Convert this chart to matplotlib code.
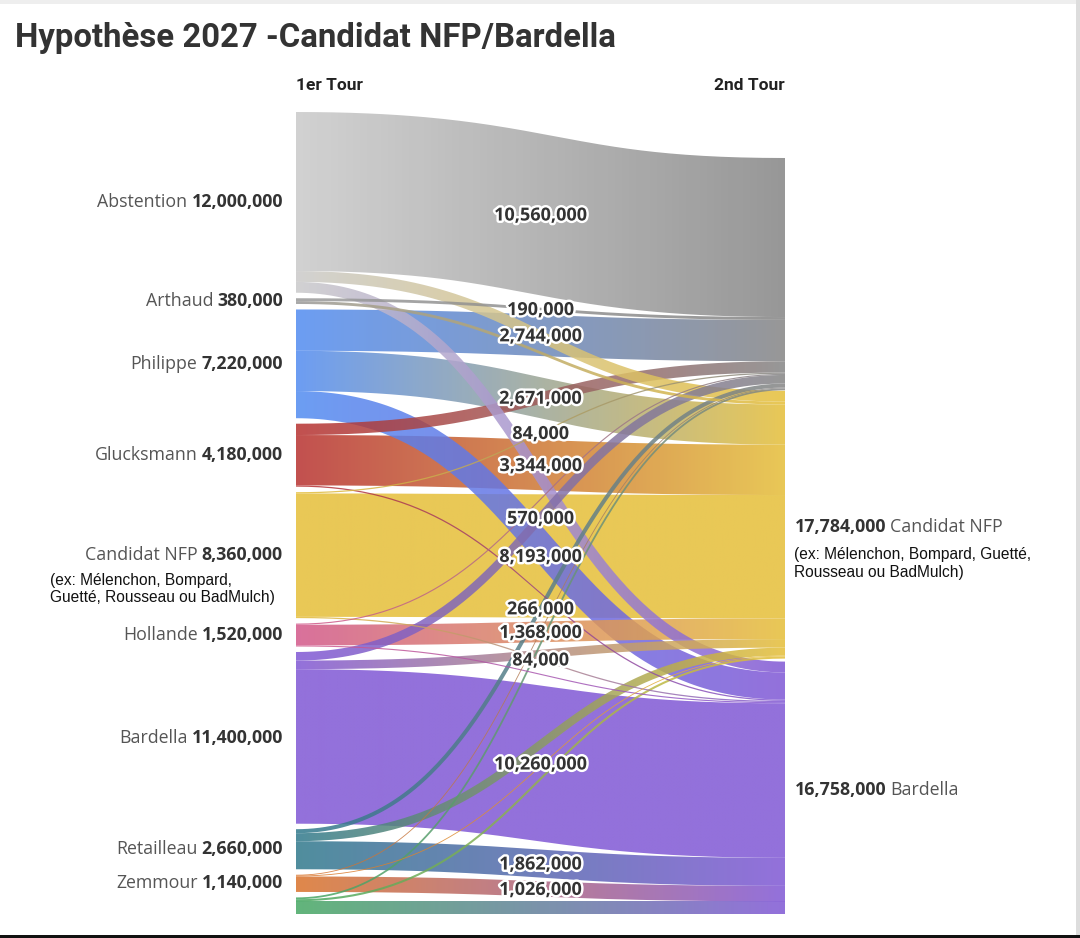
import numpy as np
import matplotlib
matplotlib.use("Agg")
import matplotlib.pyplot as plt
from matplotlib.path import Path
from matplotlib.patches import PathPatch, Rectangle
import matplotlib.colors as mcolors
import matplotlib.patheffects as pe

# ---------------- data ----------------
sources = ["Abstention", "Arthaud", "Philippe", "Glucksmann", "Candidat NFP",
           "Hollande", "Bardella", "Retailleau", "Zemmour", "Autres"]
source_totals = [12000000, 380000, 7220000, 4180000, 8360000,
                 1520000, 11400000, 2660000, 1140000, None]
source_colors = ["#cacaca", "#999999", "#528cf1", "#b7312f", "#e5be38",
                 "#d2578a", "#8057d5", "#30798c", "#da732a", "#46a863"]

targets = ["Abstention", "Candidat NFP", "Bardella"]
target_totals = [None, 17784000, 16758000]
target_colors = ["#858585", "#e5be38", "#8057d5"]

to_abstention = [10560000, 190000, 2744000, 752000, 84000, 76000, 570000, 266000, 57000, 120000]
to_nfp        = [720000, 190000, 2671000, 3344000, 8193000, 1368000, 570000, 532000, 57000, 139000]
to_bardella   = [720000, 0, 1805000, 84000, 84000, 76000, 10260000, 1862000, 1026000, 841000]

# flows whose value label is displayed (source index, target index)
labelled = {(0, 0), (1, 0), (2, 0), (2, 1), (4, 0), (3, 1), (6, 0), (4, 1),
            (7, 0), (5, 1), (4, 2), (6, 2), (7, 2), (8, 2)}

title = "Hypothèse 2027 -Candidat NFP/Bardella"
nfp_note_left = ["(ex: Mélenchon, Bompard,", "Guetté, Rousseau ou BadMulch)"]
nfp_note_right = ["(ex: Mélenchon, Bompard, Guetté,", "Rousseau ou BadMulch)"]

# ---------------- layout ----------------
W, H = 1080, 938
fig = plt.figure(figsize=(W / 100, H / 100), dpi=100)
ax = fig.add_axes([0, 0, 1, 1])
ax.set_xlim(0, W)
ax.set_ylim(H, 0)
ax.axis("off")

flows = np.array([to_abstention, to_nfp, to_bardella], dtype=float).T  # (src, tgt)
src_sum = flows.sum(axis=1)
tgt_sum = flows.sum(axis=0)

XL, XR = 296, 785
TOP, BOTTOM = 112, 914
GAP_L = 5.5
GAPS_R = [0.5, 3.0]
ALPHA = 0.85
scale = (BOTTOM - TOP - GAP_L * (len(sources) - 1)) / src_sum.sum()

src_y0 = []
y = TOP
for s in src_sum:
    src_y0.append(y)
    y += s * scale + GAP_L

tgt_h = tgt_sum * scale
tgt_y0 = [0, 0, 0]
y = BOTTOM
for j in range(len(targets) - 1, -1, -1):
    y -= tgt_h[j]
    tgt_y0[j] = y
    if j > 0:
        y -= GAPS_R[j - 1]

# link positions
links = []
src_off = [0.0] * len(sources)
tgt_off = [0.0] * len(targets)
for i in range(len(sources)):
    for j in range(len(targets)):
        v = flows[i, j]
        if v <= 0:
            continue
        w = v * scale
        ys = src_y0[i] + src_off[i] + w / 2
        src_off[i] += w
        links.append([i, j, v, w, ys, None])
for j in range(len(targets)):
    for lk in links:
        if lk[1] == j:
            lk[5] = tgt_y0[j] + tgt_off[j] + lk[3] / 2
            tgt_off[j] += lk[3]


def band(x0, y0, x1, y1, w, n=120):
    t = np.linspace(0, 1, n)
    xm = (x0 + x1) / 2
    bx = (1 - t) ** 3 * x0 + 3 * (1 - t) ** 2 * t * xm + 3 * (1 - t) * t ** 2 * xm + t ** 3 * x1
    by = (1 - t) ** 3 * y0 + 3 * (1 - t) ** 2 * t * y0 + 3 * (1 - t) * t ** 2 * y1 + t ** 3 * y1
    dx = 3 * (1 - t) ** 2 * (xm - x0) + 3 * t ** 2 * (x1 - xm)
    dy = 6 * (1 - t) * t * (y1 - y0)
    nrm = np.hypot(dx, dy)
    nx, ny = -dy / nrm, dx / nrm
    top = np.column_stack([bx + nx * w / 2, by + ny * w / 2])
    bot = np.column_stack([bx - nx * w / 2, by - ny * w / 2])
    top[:, 0] = np.clip(top[:, 0], x0, x1)
    bot[:, 0] = np.clip(bot[:, 0], x0, x1)
    return np.vstack([top, bot[::-1], top[:1]])


order = sorted(range(len(links)), key=lambda k: -links[k][2])
gsteps = np.linspace(0, 1, 256)[:, None]
for z, k in enumerate(order):
    i, j, v, w, ys, yt = links[k]
    poly = band(XL, ys, XR, yt, max(w, 0.8))
    c0 = np.array(mcolors.to_rgb(source_colors[i]))
    c1 = np.array(mcolors.to_rgb(target_colors[j]))
    img = (c0 * (1 - gsteps) + c1 * gsteps)[None, :, :]
    ymin, ymax = poly[:, 1].min() - 3, poly[:, 1].max() + 3
    im = ax.imshow(img, extent=(XL - 1, XR + 1, ymax, ymin), aspect="auto",
                   interpolation="bilinear", alpha=ALPHA, zorder=2 + z * 0.01)
    patch = PathPatch(Path(poly), facecolor="none", edgecolor="none")
    ax.add_patch(patch)
    im.set_clip_path(patch)

# flow value labels
halo = [pe.withStroke(linewidth=3.5, foreground="white")]
for i, j, v, w, ys, yt in links:
    if (i, j) in labelled:
        ax.text((XL + XR) / 2, (ys + yt) / 2 + 1, f"{int(v):,}", ha="center", va="center",
                fontsize=13, fontweight="bold", family="Open Sans", color="#333333",
                path_effects=halo, zorder=10)

renderer = fig.canvas.get_renderer()
LBL = 12.8
# left node labels
for i, name in enumerate(sources):
    if source_totals[i] is None:
        continue
    yc = src_y0[i] + src_sum[i] * scale / 2
    tv = ax.text(283, yc, f"{source_totals[i]:,}", ha="right", va="center",
                 fontsize=LBL, fontweight="bold", family="Open Sans", color="#333333", zorder=10)
    bb = tv.get_window_extent(renderer)
    ax.text(bb.x0 - 4, yc, name, ha="right", va="center", fontsize=LBL,
            family="Open Sans", color="#555555", zorder=10)
    if name == "Candidat NFP":
        for n, line in enumerate(nfp_note_left):
            ax.text(50, yc + 25 + n * 17, line, ha="left", va="center", fontsize=11.2,
                    family="Liberation Sans", color="#111111", zorder=10)

# right node labels
for j, name in enumerate(targets):
    if target_totals[j] is None:
        continue
    yc = tgt_y0[j] + tgt_h[j] / 2 + 2
    tv = ax.text(795, yc, f"{target_totals[j]:,}", ha="left", va="center",
                 fontsize=LBL, fontweight="bold", family="Open Sans", color="#333333", zorder=10)
    bb = tv.get_window_extent(renderer)
    ax.text(bb.x1 + 4, yc, name, ha="left", va="center", fontsize=LBL,
            family="Open Sans", color="#555555", zorder=10)
    if name == "Candidat NFP":
        for n, line in enumerate(nfp_note_right):
            ax.text(794, yc + 28 + n * 18, line, ha="left", va="center", fontsize=11.2,
                    family="Liberation Sans", color="#111111", zorder=10)

# column headers and title
ax.text(XL, 85, "1er Tour", ha="left", va="center", fontsize=12.5, fontweight="bold",
        family="Roboto", color="#222222")
ax.text(XR, 85, "2nd Tour", ha="right", va="center", fontsize=12.5, fontweight="bold",
        family="Roboto", color="#222222")
ax.text(15, 38, title, ha="left", va="center", fontsize=23.7, fontweight="bold",
        family="Roboto", color="#333333")

# screenshot frame
ax.add_patch(Rectangle((0, 0), W, 4, facecolor="#eeeeee", edgecolor="none", zorder=20))
ax.add_patch(Rectangle((1076, 0), 4, H, facecolor="#dddddd", edgecolor="none", zorder=20))
ax.add_patch(Rectangle((0, 935), W, 3, facecolor="#111111", edgecolor="none", zorder=20))

ax.set_xlim(0, W)
ax.set_ylim(H, 0)
fig.savefig("out.png", dpi=100)
